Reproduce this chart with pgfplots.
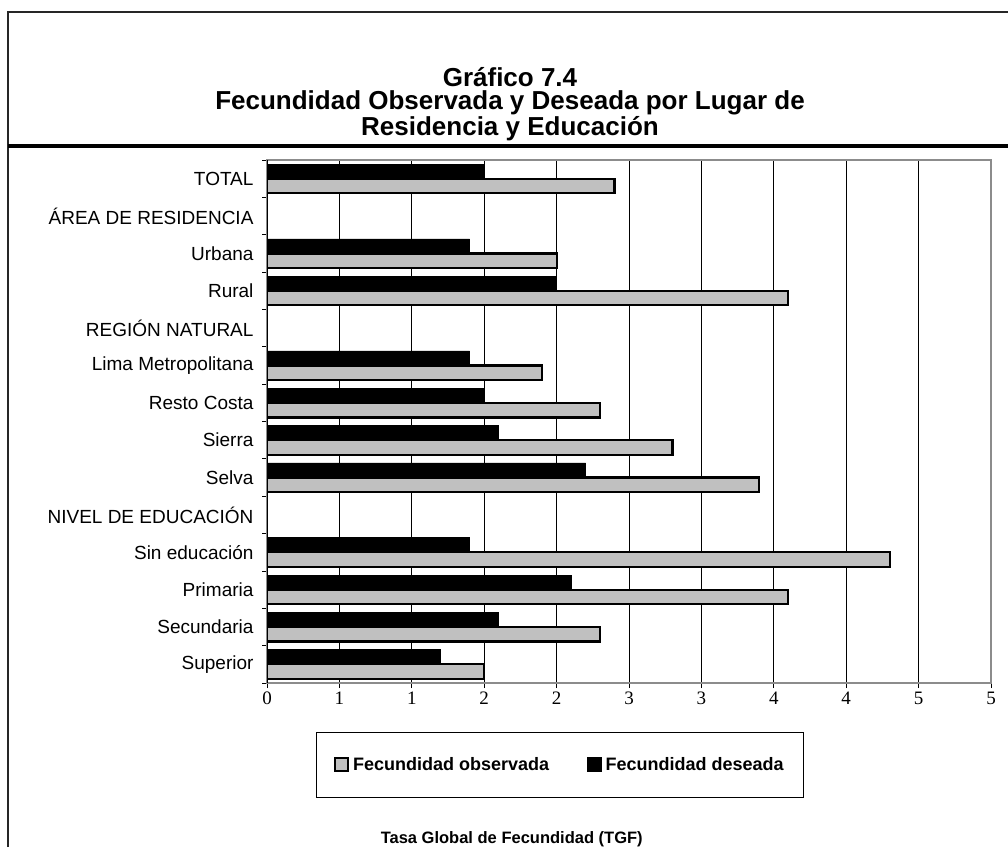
\documentclass[border=0pt]{standalone}
\usepackage{fontspec}
\setmainfont{Liberation Sans}
\newfontfamily\timesf{Liberation Serif}
\usepackage{pgfplots}
\pgfplotsset{compat=1.18}
\definecolor{silver}{RGB}{192,192,192}
\begin{document}
\begin{tikzpicture}[x=1pt,y=1pt]
\useasboundingbox (0,0) rectangle (1008,847);
\draw[line width=1.5pt, black!85] (8,0) -- (8,835) -- (1008,835);
\fill[black] (8,698.5) rectangle (1008,702.5);
\node[align=center, font=\bfseries\fontsize{26}{23.5}\selectfont] at (510,743) {Gráfico 7.4\\Fecundidad Observada y Deseada por Lugar de\\Residencia y Educación};
\begin{axis}[
  at={(267pt,164pt)}, anchor=south west, scale only axis,
  width=724pt, height=523pt,
  xmin=0, xmax=5, ymin=-0.5, ymax=13.5, y dir=reverse,
  xbar, bar width=14.6pt,
  xtick={0,0.5,1,1.5,2,2.5,3,3.5,4,4.5,5},
  xticklabels={0,1,1,2,2,3,3,4,4,5,5},
  ytick={-0.5,0.5,1.5,2.5,3.5,4.5,5.5,6.5,7.5,8.5,9.5,10.5,11.5,12.5,13.5},
  yticklabels={TOTAL,ÁREA DE RESIDENCIA,Urbana,Rural,REGIÓN NATURAL,Lima Metropolitana,Resto Costa,Sierra,Selva,NIVEL DE EDUCACIÓN,Sin educación,Primaria,Secundaria,Superior,{}},
  yticklabel style={font=\fontsize{19}{19}\selectfont, yshift=-18.68pt, xshift=-5pt},
  xticklabel style={font=\timesf\fontsize{19}{19}\selectfont, text height=12.5pt, text depth=0pt},
  /pgf/number format/assume math mode=true,
  xtick pos=bottom, ytick pos=left,
  tick align=outside, major tick length=5pt,
  tick style={black, line width=0.8pt},
  xmajorgrids, grid style={black, line width=0.8pt},
  axis line style={draw=gray!90, line width=1.6pt},
  xlabel={Tasa Global de Fecundidad (TGF)},
  xlabel style={font=\bfseries\fontsize{16.5}{16.5}\selectfont, at={(axis description cs:0.338,0)}, anchor=center, yshift=-156pt},
  legend columns=2,
  legend style={at={(axis description cs:0.0677,-0.0937)}, anchor=north west, draw=black, line width=0.8pt,
    font=\bfseries\fontsize{18}{18}\selectfont, inner xsep=18pt, inner ysep=23pt,
    /tikz/every odd column/.append style={column sep=2pt},
    /tikz/every even column/.append style={column sep=36pt}},
]
\addplot[fill=silver, draw=black, line width=2.2pt, bar shift=-7.3pt,
  legend image code/.code={\draw[fill=silver, draw=black, line width=1.6pt] (0pt,-6.5pt) rectangle (13pt,6.5pt);}]
  coordinates {(2.4,0) (2.0,2) (3.6,3) (1.9,5) (2.3,6) (2.8,7) (3.4,8) (4.3,10) (3.6,11) (2.3,12) (1.5,13)};
\addlegendentry{Fecundidad observada}
\addplot[fill=black, draw=black, line width=0.6pt, bar shift=7.3pt,
  legend image code/.code={\draw[fill=black, draw=black, line width=1.6pt] (0pt,-6.5pt) rectangle (13pt,6.5pt);}]
  coordinates {(1.5,0) (1.4,2) (2.0,3) (1.4,5) (1.5,6) (1.6,7) (2.2,8) (1.4,10) (2.1,11) (1.6,12) (1.2,13)};
\addlegendentry{Fecundidad deseada}
\draw[black, line width=1.2pt] (rel axis cs:0,0) -- (rel axis cs:0,1);
\end{axis}
\end{tikzpicture}
\end{document}
